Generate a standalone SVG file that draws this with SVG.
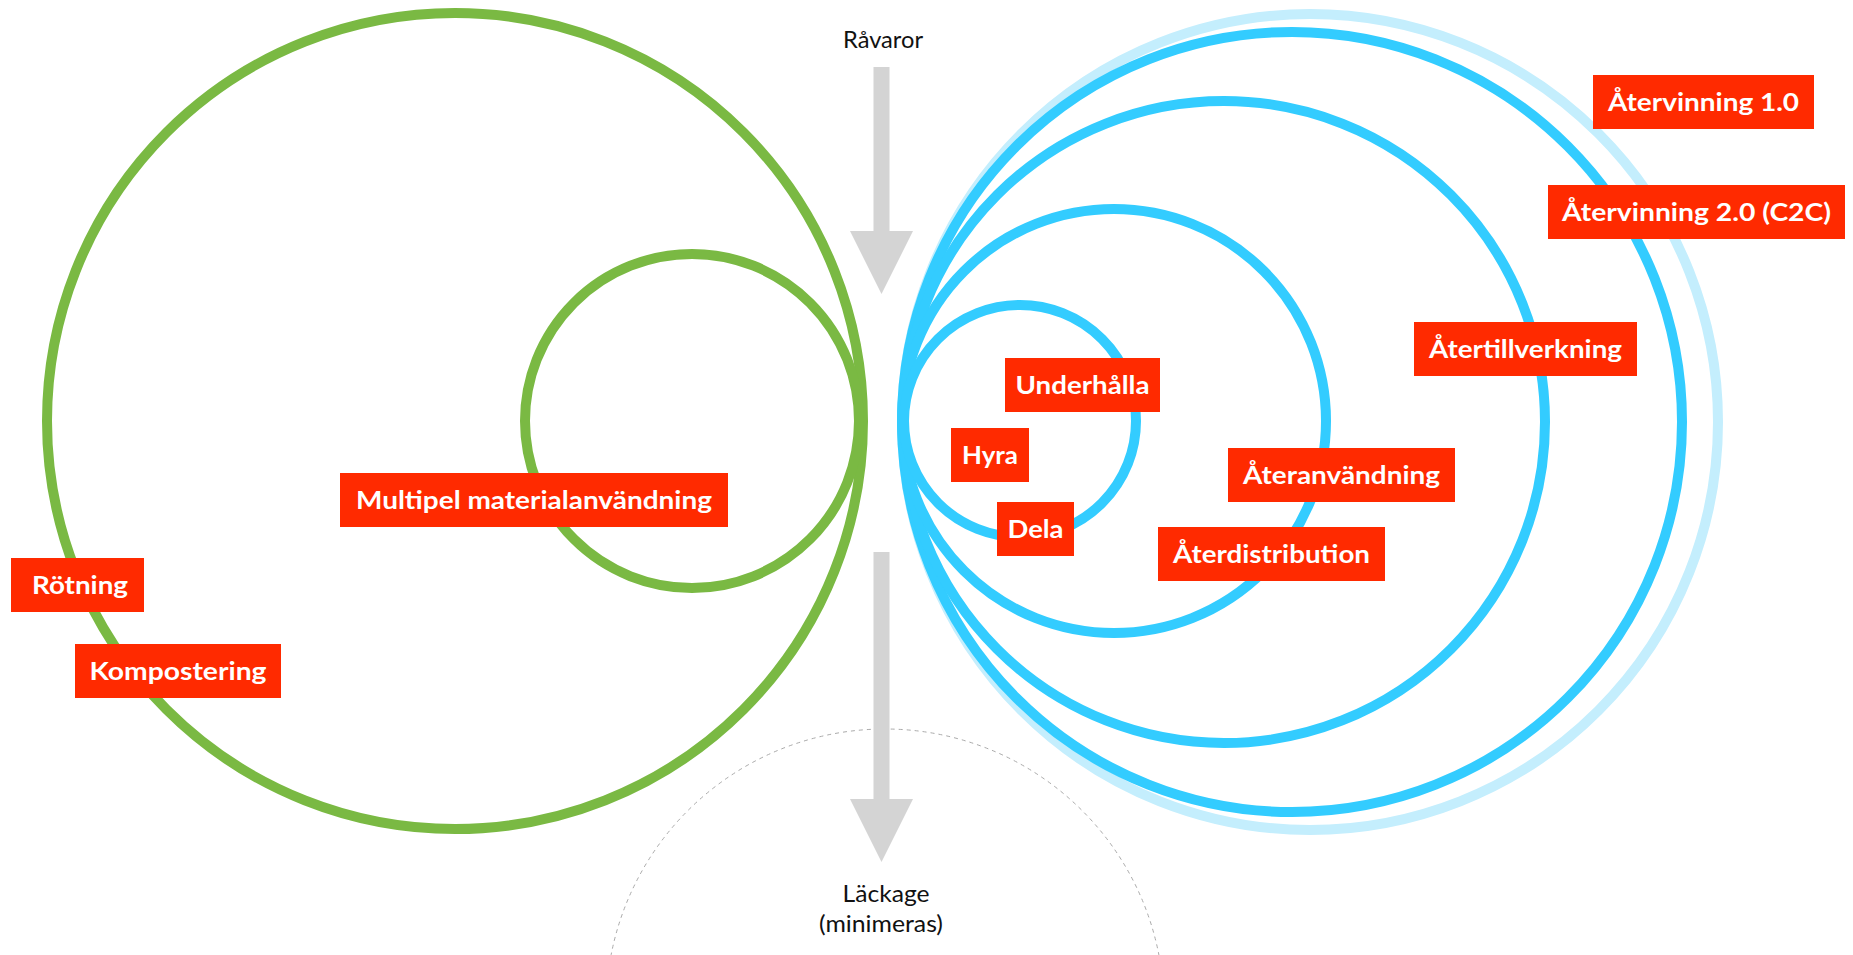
<svg xmlns="http://www.w3.org/2000/svg" width="1853" height="955" viewBox="0 0 1853 955">
<style>
.ring{fill:none;stroke-width:10}
.g{stroke:#7AB943}
.b{stroke:#33CCFF}
.lb{stroke:#C4EEFD}
.box{fill:#FF2A00}
.lbl{font-family:Lato,"Liberation Sans",sans-serif;font-weight:700;font-size:25px;fill:#fff;text-anchor:middle}
.cap{font-family:Lato,"Liberation Sans",sans-serif;font-size:24px;fill:#111;text-anchor:middle}
.arr{fill:#D4D4D4}
</style>
<rect width="1853" height="955" fill="#fff"/>
<g id="leakage-zone">
<circle cx="885" cy="1008" r="279" fill="none" stroke="#AAAAAA" stroke-width="1" stroke-dasharray="4 4"/>
</g>
<g id="biological-cycle">
<circle class="ring g" cx="455" cy="421" r="408"/>
<circle class="ring g" cx="692" cy="421" r="167"/>
</g>
<g id="technical-cycle">
<circle class="ring lb" cx="1310" cy="422" r="408"/>
<circle class="ring b" cx="1292" cy="422" r="390"/>
<circle class="ring b" cx="1224" cy="422" r="321"/>
<circle class="ring b" cx="1114" cy="421" r="212"/>
<circle class="ring b" cx="1020" cy="421" r="116"/>
</g>
<g id="connectors">
<rect class="arr" x="873.5" y="67" width="16" height="165"/>
<polygon class="arr" points="850,231 913,231 881.5,294"/>
<rect class="arr" x="873.5" y="552" width="16" height="248"/>
<polygon class="arr" points="850,799 913,799 881.5,862"/>
</g>
<g id="ravaror"><text class="cap" x="883" y="48" textLength="80" lengthAdjust="spacingAndGlyphs">Råvaror</text></g>
<g id="lackage"><text class="cap" x="886" y="902" textLength="87" lengthAdjust="spacingAndGlyphs">Läckage</text><text class="cap" x="881" y="932" textLength="124" lengthAdjust="spacingAndGlyphs">(minimeras)</text></g>
<g id="multipel"><rect class="box" x="340" y="473" width="388" height="54"/><text class="lbl" x="534" y="509" textLength="356" lengthAdjust="spacingAndGlyphs">Multipel materialanvändning</text></g>
<g id="rotning"><rect class="box" x="11" y="558" width="133" height="54"/><text class="lbl" x="80" y="594" textLength="96" lengthAdjust="spacingAndGlyphs">Rötning</text></g>
<g id="kompostering"><rect class="box" x="75" y="644" width="206" height="54"/><text class="lbl" x="178" y="680" textLength="177" lengthAdjust="spacingAndGlyphs">Kompostering</text></g>
<g id="atervinning1"><rect class="box" x="1593" y="75" width="221" height="54"/><text class="lbl" x="1703.5" y="111" textLength="191" lengthAdjust="spacingAndGlyphs">Återvinning 1.0</text></g>
<g id="atervinning2"><rect class="box" x="1548" y="185" width="297" height="54"/><text class="lbl" x="1696.5" y="221" textLength="269" lengthAdjust="spacingAndGlyphs">Återvinning 2.0 (C2C)</text></g>
<g id="atertillverkning"><rect class="box" x="1414" y="322" width="223" height="54"/><text class="lbl" x="1525.5" y="358" textLength="193" lengthAdjust="spacingAndGlyphs">Återtillverkning</text></g>
<g id="underhalla"><rect class="box" x="1005" y="358" width="155" height="54"/><text class="lbl" x="1082.5" y="394" textLength="134" lengthAdjust="spacingAndGlyphs">Underhålla</text></g>
<g id="hyra"><rect class="box" x="951" y="428" width="78" height="54"/><text class="lbl" x="990" y="464" textLength="56" lengthAdjust="spacingAndGlyphs">Hyra</text></g>
<g id="ateranvandning"><rect class="box" x="1228" y="448" width="227" height="54"/><text class="lbl" x="1341.5" y="484" textLength="197" lengthAdjust="spacingAndGlyphs">Återanvändning</text></g>
<g id="dela"><rect class="box" x="997" y="502" width="77" height="54"/><text class="lbl" x="1035.5" y="538" textLength="56" lengthAdjust="spacingAndGlyphs">Dela</text></g>
<g id="aterdistribution"><rect class="box" x="1158" y="527" width="227" height="54"/><text class="lbl" x="1271.5" y="563" textLength="197" lengthAdjust="spacingAndGlyphs">Återdistribution</text></g>
</svg>
